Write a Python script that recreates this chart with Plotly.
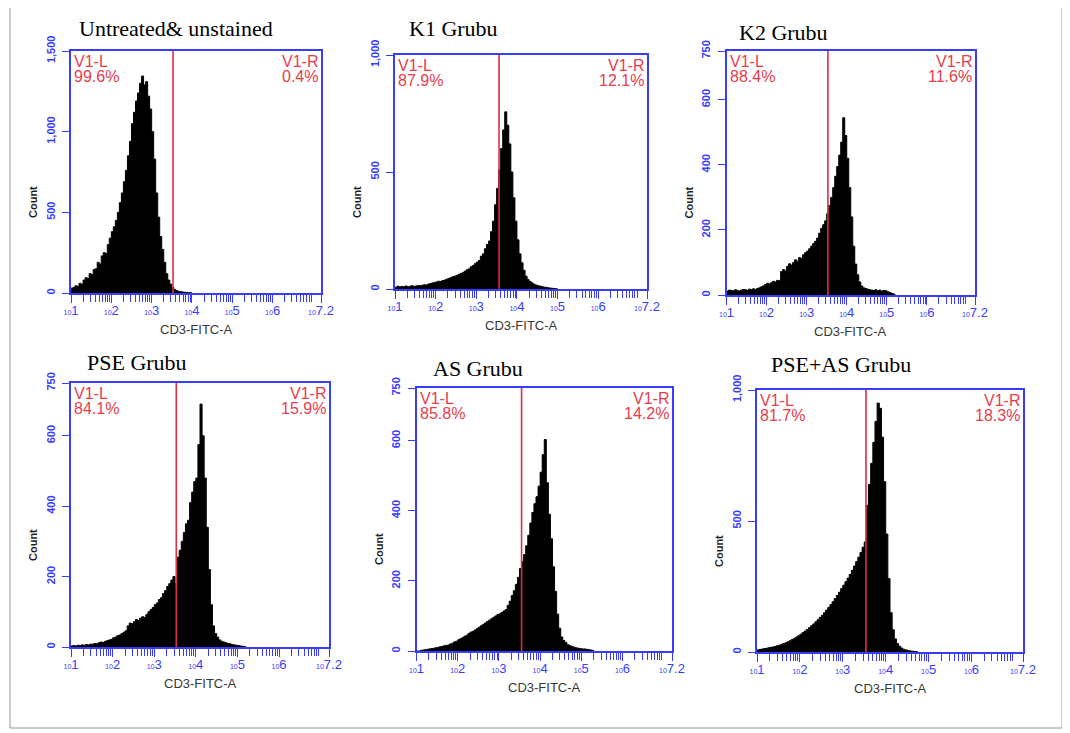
import plotly.graph_objects as go
import math

# ---------------- data ----------------
titles = ["Untreated& unstained", "K1 Grubu", "K2 Grubu", "PSE Grubu", "AS Grubu", "PSE+AS Grubu"]
pct_left = ["99.6%", "87.9%", "88.4%", "84.1%", "85.8%", "81.7%"]
pct_right = ["0.4%", "12.1%", "11.6%", "15.9%", "14.2%", "18.3%"]
gate_log = [3.53, 3.56, 3.53, 3.53, 3.55, 3.54]   # log10 position of V1 gate
bin_width = 0.05                                   # decades per histogram channel
bin_start = [1.0, 1.0, 1.0, 1.0, 1.0, 1.0]

counts_untreated = [30, 35, 45, 42, 60, 55, 80, 95, 90, 120,
                    115, 145, 150, 190, 180, 230, 250, 245, 300, 340,
                    380, 410, 450, 500, 560, 620, 690, 760, 850, 940,
                    1050, 1120, 1190, 1240, 1300, 1345, 1290, 1310, 1220, 1140,
                    1000, 830, 620, 470, 350, 270, 190, 120, 80, 55,
                    35, 22, 15, 10, 8, 6, 4, 3, 2, 1]
counts_k1 = [8, 12, 9, 11, 10, 13, 9, 12, 14, 11,
             13, 15, 14, 16, 18, 17, 21, 23, 26, 28,
             30, 33, 32, 36, 38, 42, 45, 48, 52, 55,
             58, 62, 66, 70, 76, 82, 86, 95, 100, 108,
             115, 122, 140, 150, 172, 190, 205, 245, 290, 360,
             430, 510, 600, 680, 757, 700, 620, 500, 390, 290,
             210, 150, 112, 80, 55, 40, 32, 26, 20, 17,
             14, 12, 10, 8, 7, 5, 4, 3, 2, 1]
counts_k2 = [12, 15, 14, 13, 16, 14, 12, 15, 17, 16,
             14, 18, 16, 19, 17, 20, 22, 25, 28, 32,
             36, 34, 38, 42, 40, 45, 44, 72, 78, 74,
             88, 96, 92, 100, 108, 104, 115, 112, 124, 130,
             135, 142, 150, 158, 165, 175, 190, 205, 216, 228,
             250, 275, 300, 330, 365, 395, 430, 470, 545, 490,
             420, 330, 240, 150, 95, 62, 40, 28, 22, 20,
             18, 16, 15, 14, 16, 13, 15, 12, 14, 13,
             10, 8, 5, 3]
counts_pse = [3, 4, 3, 5, 4, 6, 5, 7, 6, 8,
              8, 10, 9, 12, 14, 13, 16, 18, 20, 22,
              26, 28, 32, 34, 38, 42, 46, 60, 68, 66,
              72, 78, 75, 82, 86, 84, 92, 100, 106, 112,
              120, 125, 135, 140, 152, 160, 172, 180, 190, 200,
              180, 255, 275, 300, 325, 350, 360, 410, 440, 470,
              480, 575, 690, 600, 480, 340, 220, 120, 60, 38,
              28, 20, 16, 14, 12, 10, 9, 7, 6, 5,
              4, 3, 2, 1]
counts_as = [0, 0, 2, 3, 4, 5, 6, 7, 8, 9,
             10, 12, 13, 15, 16, 17, 20, 22, 26, 28,
             32, 35, 38, 42, 45, 50, 54, 56, 60, 64,
             68, 72, 76, 80, 84, 88, 92, 96, 100, 104,
             106, 110, 114, 118, 130, 142, 158, 172, 190, 210,
             235, 255, 275, 300, 330, 365, 395, 420, 440, 470,
             510, 560, 603, 480, 390, 320, 240, 170, 105, 65,
             40, 30, 24, 18, 15, 13, 11, 9, 8, 7,
             6, 6, 5, 4, 3, 2]
counts_pseas = [8, 10, 11, 13, 14, 16, 18, 19, 21, 24,
                26, 29, 32, 35, 39, 43, 48, 52, 57, 62,
                68, 74, 80, 86, 93, 100, 107, 115, 123, 132,
                140, 150, 160, 170, 181, 192, 204, 216, 228, 242,
                255, 268, 282, 296, 312, 328, 345, 362, 380, 400,
                420, 560, 640, 720, 800, 880, 950, 930, 820, 650,
                450, 280, 150, 85, 50, 32, 22, 15, 10, 8,
                6, 4, 3, 2, 1]
all_counts = [counts_untreated, counts_k1, counts_k2, counts_pse, counts_as, counts_pseas]

y_max = [1500, 1000, 750, 750, 750, 1000]
y_tickvals = [[0, 500, 1000, 1500], [0, 500, 1000], [0, 200, 400, 600, 750],
              [0, 200, 400, 600, 750], [0, 200, 400, 600, 750], [0, 500, 1000]]
x_tickvals = [1, 2, 3, 4, 5, 6, 7.2]
x_ticktext = ["1", "2", "3", "4", "5", "6", "7.2"]

# ---------------- layout ----------------
# The page body has an 8px margin, so the figure is drawn 8px smaller and
# every reference pixel position is shifted by OFF.
OFF = 8
W, H = 1070 - OFF, 733 - OFF
boxes = [(71, 321, 51, 293), (395, 647, 55, 289), (726.5, 975, 51, 295),
         (71, 329, 383, 647), (416.5, 672, 388, 651), (757, 1023, 390, 652)]
title_pos = [(77, 28), (407, 29), (737, 33), (85, 362), (431, 368), (769, 364)]

def px(x):
    return (x - OFF) / W

def py(y):
    return 1 - (y - OFF) / H

BLUE = "rgb(55,60,255)"
RED = "rgb(232,60,75)"
GATE = "rgb(225,45,65)"

fig = go.Figure()
layout = dict(template="none", width=W, height=H, paper_bgcolor="white", plot_bgcolor="white",
              margin=dict(l=0, r=0, t=0, b=0, pad=0, autoexpand=False), showlegend=False)
annotations = []
shapes = []

minor_vals = []
for d in range(1, 8):
    for k in range(2, 10):
        v = d + math.log10(k)
        if v < 7.2:
            minor_vals.append(v)

def fmt(v):
    return f"{v:,}"

for i in range(6):
    l, r, t, b = boxes[i]
    xs = "" if i == 0 else str(i + 1)
    counts = all_counts[i]
    edges = [bin_start[i] + j * bin_width for j in range(len(counts) + 1)]
    fig.add_trace(go.Scatter(
        x=edges, y=counts + [0], mode="lines", line=dict(color="black", width=1, shape="hv"),
        fill="tozeroy", fillcolor="black", xaxis="x" + xs, yaxis="y" + xs, hoverinfo="skip"))

    layout["xaxis" + xs] = dict(
        domain=[px(l), px(r)], anchor="y" + xs, range=[1, 7.2], showgrid=False, zeroline=False,
        automargin=False,
        showline=True, linecolor=BLUE, linewidth=1.5, mirror=True,
        ticks="outside", ticklen=8, tickcolor=BLUE, tickwidth=1.2,
        tickvals=x_tickvals, ticklabelstandoff=-3,
        ticktext=["<span style='font-size:7px'>10</span>" + s for s in x_ticktext],
        tickfont=dict(family="Liberation Sans", size=13, color=BLUE),
        minor=dict(tickvals=minor_vals, ticks="outside", ticklen=7, tickcolor=BLUE, tickwidth=1),
        fixedrange=True)
    layout["yaxis" + xs] = dict(
        domain=[py(b), py(t)], anchor="x" + xs, range=[0, y_max[i]], showgrid=False,
        zeroline=False, showline=True, linecolor=BLUE, linewidth=1.5, mirror=True,
        automargin=False,
        ticks="outside", ticklen=7, tickcolor=BLUE, tickwidth=1.2, ticklabelstandoff=3,
        tickvals=y_tickvals[i], ticktext=["<b>" + fmt(v) + "</b>" for v in y_tickvals[i]], tickangle=-90,
        tickfont=dict(family="Liberation Sans", size=11, color=BLUE), fixedrange=True)

    # gate line
    shapes.append(dict(type="line", xref="x" + xs, yref="y" + xs + " domain",
                       x0=gate_log[i], x1=gate_log[i], y0=0, y1=1,
                       line=dict(color=GATE, width=1.6)))
    # gate labels (two separate lines for tight spacing)
    for side, xa, xan, sh in (("L", 0.0, "left", 1), ("R", 1.0, "right", -1)):
        pct = pct_left[i] if side == "L" else pct_right[i]
        annotations.append(dict(xref="x" + xs + " domain", yref="y" + xs + " domain", x=xa, y=1.0,
                                xanchor=xan, yanchor="middle", showarrow=False,
                                text="V1-" + side, xshift=sh, yshift=-10,
                                font=dict(family="Liberation Sans", size=16, color=RED)))
        annotations.append(dict(xref="x" + xs + " domain", yref="y" + xs + " domain", x=xa, y=1.0,
                                xanchor=xan, yanchor="middle", showarrow=False,
                                text=pct, xshift=sh, yshift=-25.5,
                                font=dict(family="Liberation Sans", size=16, color=RED)))
    # panel title
    annotations.append(dict(xref="paper", yref="paper", x=px(title_pos[i][0]), y=py(title_pos[i][1]),
                            xanchor="left", yanchor="middle", showarrow=False, text=titles[i],
                            font=dict(family="Liberation Serif", size=22, color="black")))
    # axis titles
    annotations.append(dict(xref="paper", yref="paper", x=px((l + r) / 2), y=py(b + 36),
                            xanchor="center", yanchor="middle", showarrow=False, text="CD3-FITC-A",
                            font=dict(family="Liberation Sans", size=13, color="rgb(55,55,55)")))
    annotations.append(dict(xref="paper", yref="paper", x=px(l - 38), y=py((t + b) / 2 + 30),
                            xanchor="center", yanchor="middle", showarrow=False, text="<b>Count</b>",
                            textangle=-90,
                            font=dict(family="Liberation Sans", size=11, color="rgb(30,30,30)")))

# outer frame of the figure
gray = dict(color="rgb(150,150,150)", width=1)
shapes.append(dict(type="line", xref="paper", yref="paper", x0=px(10), x1=px(10), y0=py(728), y1=1, line=gray))
shapes.append(dict(type="line", xref="paper", yref="paper", x0=px(10), x1=px(1062), y0=py(728), y1=py(728), line=gray))
shapes.append(dict(type="line", xref="paper", yref="paper", x0=px(1062), x1=px(1062), y0=py(728), y1=1, line=gray))

layout["annotations"] = annotations
layout["shapes"] = shapes
fig.update_layout(**layout)
fig.write_html("out.html")
